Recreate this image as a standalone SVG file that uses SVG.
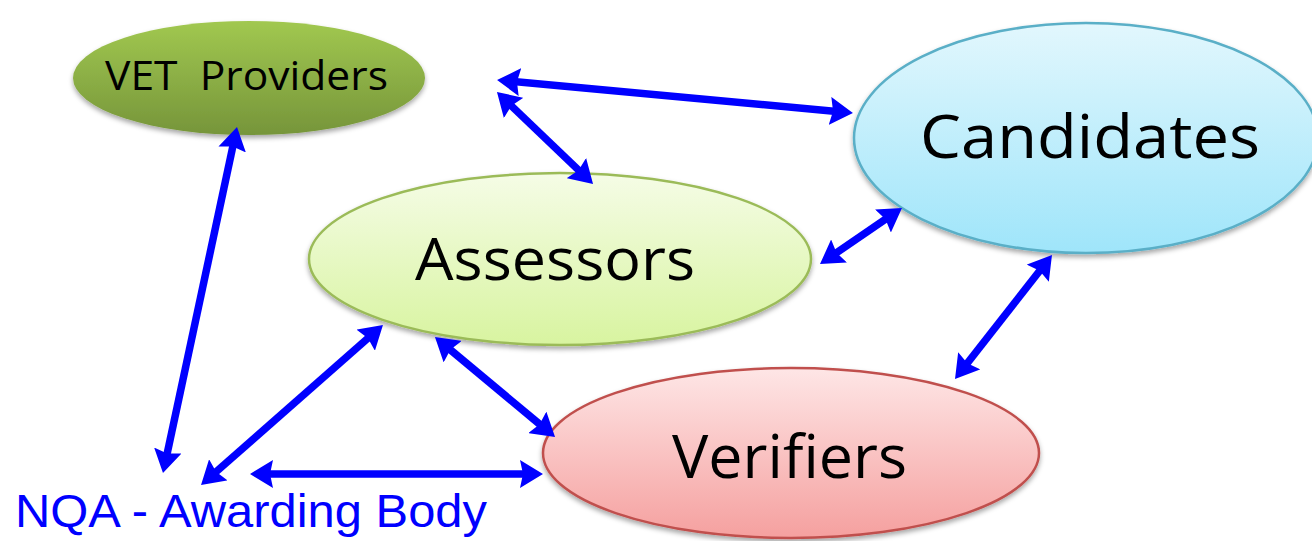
<svg xmlns="http://www.w3.org/2000/svg" width="1312" height="541" viewBox="0 0 1312 541">
<style>
.lbl{font-family:"Open Sans","Liberation Sans",sans-serif;fill:#000;text-anchor:start}
.con{stroke:#0000FF;stroke-width:7.5;fill:none;marker-start:url(#ah);marker-end:url(#ah)}
.nqa{font-family:"Liberation Sans",Arial,sans-serif;fill:#0000FF;font-size:47px}
</style>
<defs>
<marker id="ah" markerUnits="userSpaceOnUse" markerWidth="24" markerHeight="28" refX="12" refY="14" orient="auto-start-reverse" viewBox="0 0 24 28">
<path d="M0,0 L23,14 L0,28 L3,14 z" fill="#0000FF"/>
</marker>
<linearGradient id="gVet" x1="0" y1="0" x2="0" y2="1">
<stop offset="0" stop-color="#A1C850"/><stop offset="1" stop-color="#76953A"/>
</linearGradient>
<linearGradient id="gCand" x1="0" y1="0" x2="0" y2="1">
<stop offset="0" stop-color="#E2F7FD"/><stop offset="1" stop-color="#9FE5FA"/>
</linearGradient>
<linearGradient id="gAss" x1="0" y1="0" x2="0" y2="1">
<stop offset="0" stop-color="#F5FCE6"/><stop offset="1" stop-color="#D8F4A0"/>
</linearGradient>
<linearGradient id="gVer" x1="0" y1="0" x2="0" y2="1">
<stop offset="0" stop-color="#FEE6E6"/><stop offset="1" stop-color="#F5A09F"/>
</linearGradient>
<filter id="sh" x="-10%" y="-10%" width="120%" height="130%">
<feDropShadow dx="0" dy="3" stdDeviation="2.5" flood-color="#000" flood-opacity="0.35"/>
</filter>
</defs>

<g id="vet-providers">
<ellipse cx="249" cy="78" rx="176" ry="57" fill="url(#gVet)" filter="url(#sh)"/>
<text class="lbl" x="105" y="90" font-size="41" textLength="283" lengthAdjust="spacingAndGlyphs" xml:space="preserve">VET  Providers</text>
</g>

<g id="candidates">
<ellipse cx="1086" cy="138" rx="232" ry="115" fill="url(#gCand)" stroke="#5AAFC7" stroke-width="2.5" filter="url(#sh)"/>
<text class="lbl" x="920" y="158" font-size="60" textLength="340" lengthAdjust="spacingAndGlyphs">Candidates</text>
</g>

<g id="assessors">
<ellipse cx="560" cy="259" rx="251" ry="86" fill="url(#gAss)" stroke="#9BBB59" stroke-width="2.5" filter="url(#sh)"/>
<text class="lbl" x="415" y="280" font-size="59" textLength="280" lengthAdjust="spacingAndGlyphs">Assessors</text>
</g>

<g id="verifiers">
<ellipse cx="791" cy="453" rx="248" ry="85" fill="url(#gVer)" stroke="#C0504D" stroke-width="2.5" filter="url(#sh)"/>
<text class="lbl" x="672" y="478" font-size="60" textLength="235" lengthAdjust="spacingAndGlyphs">Verifiers</text>
</g>

<g id="nqa-awarding-body">
<text class="nqa" x="15" y="527" textLength="472" lengthAdjust="spacingAndGlyphs">NQA - Awarding Body</text>
</g>

<g id="connectors">
<line class="con" x1="234.7" y1="137.8" x2="165.3" y2="462.2"/>
<line class="con" x1="508" y1="81" x2="842" y2="112"/>
<line class="con" x1="504.9" y1="99.6" x2="585.1" y2="176.4"/>
<line class="con" x1="829.1" y1="257.8" x2="892.9" y2="214.2"/>
<line class="con" x1="1045.2" y1="263.7" x2="961.8" y2="370.3"/>
<line class="con" x1="374.7" y1="332.3" x2="209.3" y2="477.7"/>
<line class="con" x1="443.4" y1="344" x2="546.6" y2="430"/>
<line class="con" x1="261" y1="474" x2="532" y2="474"/>
</g>
</svg>
